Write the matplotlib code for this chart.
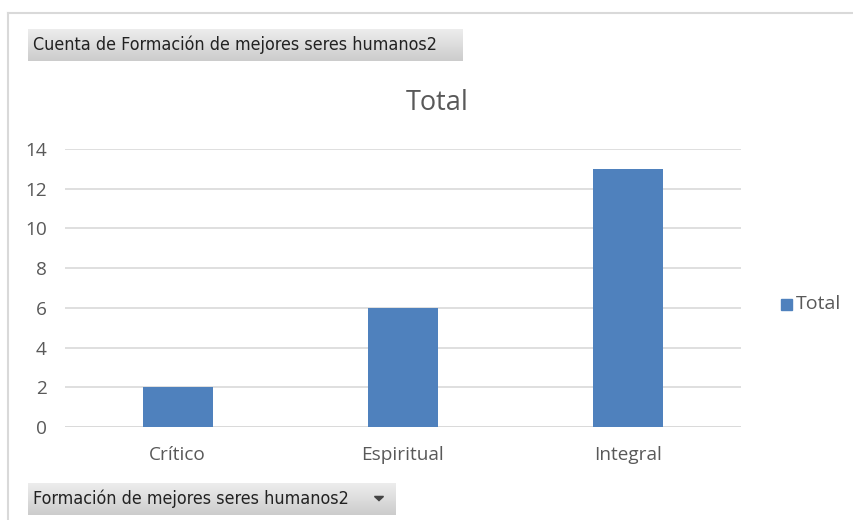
import matplotlib.pyplot as plt
import numpy as np
from matplotlib.patches import Rectangle, Polygon

categories = ['Crítico', 'Espiritual', 'Integral']
totals = [2, 6, 13]
yticks = [0, 2, 4, 6, 8, 10, 12, 14]

bar_color = '#4F81BD'
text_color = '#595959'
grid_color = '#D9D9D9'

plt.rcParams['font.family'] = ['Open Sans', 'DejaVu Sans']

W, H = 854, 520
fig = plt.figure(figsize=(W / 100, H / 100), dpi=100)

# plot area in pixel coordinates
left, right, top, bottom = 65, 741, 149, 427
ax = fig.add_axes([left / W, 1 - bottom / H, (right - left) / W, (bottom - top) / H])

x = np.arange(len(categories))
ax.bar(x, totals, width=0.31, color=bar_color, label='Total', zorder=3)
ax.set_xlim(-0.5, len(categories) - 0.5)
ax.set_ylim(0, 14)
ax.set_yticks(yticks)
ax.set_xticks(x)
ax.set_xticklabels(categories)
ax.grid(axis='y', color=grid_color, linewidth=1.2, zorder=0)
for s in ax.spines.values():
    s.set_visible(False)
ax.axhline(0, color=grid_color, linewidth=1.2, zorder=1)
ax.tick_params(length=0, labelsize=13.7, colors=text_color)
ax.tick_params(axis='x', pad=13.5)
ax.tick_params(axis='y', pad=13)
for lbl in ax.get_yticklabels():
    lbl.set_horizontalalignment('right')

fig.text(437 / W, 1 - 103 / H, 'Total', ha='center', va='center',
         fontsize=19.5, color=text_color)

# legend
fig.patches.append(Rectangle((781 / W, 1 - 310 / H), 11 / W, 11 / H,
                             transform=fig.transFigure, color=bar_color))
fig.text(796 / W, 1 - 304 / H, 'Total', ha='left', va='center',
         fontsize=14, color=text_color)

# chart frame
fig.add_artist(plt.Line2D([8 / W, 1], [1 - 13 / H, 1 - 13 / H],
                          transform=fig.transFigure, color='#D9D9D9', lw=1.5))
fig.add_artist(plt.Line2D([8 / W, 8 / W], [0, 1 - 13 / H],
                          transform=fig.transFigure, color='#D9D9D9', lw=1.5))


def field_button(x0, y0, x1, y1, label, arrow=False):
    # gray gradient pivot field button
    grad = np.linspace(0.93, 0.80, 50).reshape(-1, 1)
    bax = fig.add_axes([x0 / W, 1 - y1 / H, (x1 - x0) / W, (y1 - y0) / H])
    bax.imshow(np.dstack([grad, grad, grad]), aspect='auto', extent=[0, 1, 0, 1])
    bax.set_xlim(0, 1)
    bax.set_ylim(0, 1)
    bax.axis('off')
    bax.text(5 / (x1 - x0), 0.5, label, ha='left', va='center',
             fontsize=12.9, color='#222222', family=['DejaVu Sans'],
             fontstretch='condensed')
    if arrow:
        cx = 1 - 17 / (x1 - x0)
        hw = 4.5 / (x1 - x0)
        bax.add_patch(Polygon([[cx - hw, 0.58], [cx + hw, 0.58], [cx, 0.45]],
                              color='#444444'))


field_button(28, 29, 463, 61, 'Cuenta de Formación de mejores seres humanos2')
field_button(28, 483, 396, 515, 'Formación de mejores seres humanos2', arrow=True)

fig.savefig('out.png', dpi=100)
